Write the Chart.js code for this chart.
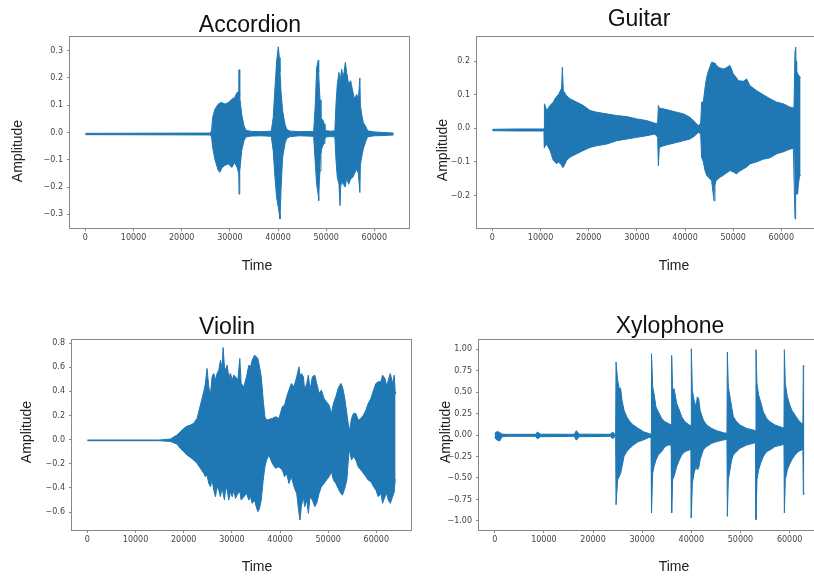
<!DOCTYPE html>
<html>
<head>
<meta charset="utf-8">
<script src="https://cdn.jsdelivr.net/npm/chart.js@4"></script>
<style>
  html, body { margin: 0; padding: 0; background: #fff; }
  body { width: 814px; height: 579px; overflow: hidden; position: relative; }
  canvas { position: absolute; }
</style>
</head>
<body>
<canvas id="accordion"></canvas>
<canvas id="guitar"></canvas>
<canvas id="violin"></canvas>
<canvas id="xylophone"></canvas>
<script>
// waveform envelopes: sample index, upper edge, lower edge
const accordionTime = [
  0, 2500, 26000, 26220, 26430, 26910, 27600, 27950, 28300, 29000,
  29700, 30400, 31000, 31500, 31850, 31900, 32000, 32100, 32450, 32930,
  33350, 34500, 36500, 38600, 39000, 39370, 39720, 40060, 40270, 40410,
  40550, 40620, 40960, 41450, 41800, 42500, 44500, 47400, 47750, 48020,
  48370, 48440, 48580, 48720, 48920, 49060, 49400, 49620, 49750, 50100,
  51000, 51800, 52040, 52310, 52660, 52870, 53000, 53210, 53560, 53980,
  54250, 54670, 55080, 55500, 55900, 56330, 56680, 57000, 57100, 57370,
  57710, 58270, 58610, 60000, 62000, 64000];
const accordionUpper = [
  -0.003, -0.003, -0.002, 0.01, 0.055, 0.086, 0.104, 0.108, 0.11, 0.104,
  0.11, 0.122, 0.128, 0.147, 0.15, 0.23, 0.17, 0.13, 0.067, 0.025,
  0.008, 0.004, 0.003, 0.005, 0.055, 0.165, 0.263, 0.314, 0.275, 0.22,
  0.177, 0.15, 0.08, 0.03, 0.012, 0.005, 0.003, 0.004, 0.104, 0.238,
  0.265, 0.22, 0.165, 0.12, 0.055, 0.05, 0.043, 0.03, 0.012, 0.006,
  0.005, 0.006, 0.104, 0.177, 0.22, 0.19, 0.2, 0.232, 0.2, 0.257,
  0.22, 0.177, 0.19, 0.153, 0.122, 0.14, 0.12, 0.2, 0.1, 0.067,
  0.037, 0.02, 0.006, 0.002, 0.0, -0.002];
const accordionLower = [
  -0.008, -0.008, -0.009, -0.02, -0.055, -0.10, -0.14, -0.146, -0.13, -0.12,
  -0.115, -0.128, -0.11, -0.128, -0.15, -0.226, -0.16, -0.14, -0.067, -0.03,
  -0.016, -0.013, -0.012, -0.014, -0.067, -0.165, -0.24, -0.274, -0.30, -0.317,
  -0.25, -0.21, -0.09, -0.04, -0.022, -0.015, -0.012, -0.014, -0.115, -0.19,
  -0.23, -0.25, -0.18, -0.14, -0.08, -0.06, -0.045, -0.04, -0.022, -0.016,
  -0.015, -0.016, -0.10, -0.165, -0.19, -0.268, -0.2, -0.18, -0.19, -0.2,
  -0.165, -0.19, -0.17, -0.165, -0.15, -0.134, -0.15, -0.22, -0.12, -0.09,
  -0.06, -0.03, -0.016, -0.012, -0.011, -0.009];

const guitarTime = [
  0, 5000, 10600, 10720, 10800, 11270, 11960, 12650, 13000, 13350,
  13690, 14040, 14380, 14520, 14730, 15420, 16110, 17500, 18880, 20270,
  21650, 23730, 25800, 27880, 29960, 32030, 33770, 34320, 34460, 34660,
  35500, 36880, 38260, 39650, 41030, 42070, 42760, 43250, 43450, 43800,
  44150, 44490, 44840, 45530, 46020, 46220, 46430, 46920, 47260, 47950,
  48300, 49340, 50030, 50720, 51070, 52110, 52800, 53490, 54880, 56260,
  57650, 59030, 60410, 61800, 62490, 62630, 62840, 62975, 63050, 63180,
  63390, 63530, 63740, 64000];
const guitarUpper = [
  -0.003, -0.002, -0.002, 0.0, 0.073, 0.053, 0.068, 0.078, 0.088, 0.095,
  0.10, 0.11, 0.12, 0.182, 0.112, 0.097, 0.088, 0.078, 0.068, 0.053,
  0.048, 0.043, 0.038, 0.035, 0.028, 0.023, 0.015, 0.015, 0.068, 0.06,
  0.058, 0.053, 0.048, 0.043, 0.033, 0.018, 0.008, 0.015, 0.078, 0.078,
  0.12, 0.152, 0.17, 0.197, 0.195, 0.192, 0.19, 0.182, 0.18, 0.177,
  0.178, 0.187, 0.162, 0.15, 0.142, 0.14, 0.147, 0.127, 0.112, 0.10,
  0.088, 0.078, 0.073, 0.063, 0.061, 0.06, 0.232, 0.242, 0.2, 0.172,
  0.162, 0.16, 0.155, 0.152];
const guitarLower = [
  -0.007, -0.008, -0.008, -0.01, -0.057, -0.047, -0.066, -0.096, -0.10, -0.106,
  -0.10, -0.105, -0.11, -0.116, -0.116, -0.096, -0.086, -0.076, -0.066, -0.057,
  -0.052, -0.047, -0.037, -0.032, -0.027, -0.022, -0.017, -0.027, -0.111, -0.057,
  -0.052, -0.047, -0.042, -0.037, -0.032, -0.022, -0.012, -0.017, -0.087, -0.10,
  -0.126, -0.14, -0.146, -0.156, -0.216, -0.17, -0.156, -0.15, -0.146, -0.14,
  -0.136, -0.126, -0.13, -0.136, -0.13, -0.121, -0.115, -0.106, -0.10, -0.092,
  -0.088, -0.076, -0.07, -0.062, -0.06, -0.06, -0.27, -0.2, -0.18, -0.196,
  -0.196, -0.17, -0.145, -0.14];

const violinTime = [
  0, 15000, 17210, 18600, 19300, 19990, 20680, 21380, 22070, 22770,
  23460, 24160, 24500, 24850, 25200, 25540, 25890, 26240, 26590, 26930,
  27280, 27630, 27970, 28180, 28460, 28740, 29010, 29360, 29710, 30060,
  30400, 30750, 31240, 31650, 31930, 32490, 33040, 33530, 33880, 34220,
  34710, 35060, 35400, 35750, 36100, 36510, 36860, 37210, 37690, 38390,
  39080, 39780, 40470, 40960, 41370, 41860, 42350, 42900, 43460, 43940,
  44150, 44430, 44850, 45120, 45540, 45890, 46230, 46720, 47210, 47620,
  48110, 48590, 49150, 49640, 50190, 50680, 51090, 51580, 52070, 52620,
  52970, 53450, 53870, 54360, 54570, 54840, 55260, 55750, 56230, 56790,
  57340, 57830, 58310, 58870, 59430, 59910, 60400, 60950, 61300, 61790,
  62200, 62480, 62900, 63380, 63730, 63900, 64000];
const violinUpper = [
  -0.003, -0.003, 0.005, 0.038, 0.065, 0.093, 0.112, 0.121, 0.135, 0.176,
  0.286, 0.397, 0.466, 0.59, 0.438, 0.369, 0.521, 0.549, 0.494, 0.549,
  0.576, 0.659, 0.59, 0.764, 0.604, 0.576, 0.618, 0.521, 0.549, 0.494,
  0.535, 0.521, 0.494, 0.673, 0.466, 0.438, 0.521, 0.618, 0.604, 0.659,
  0.701, 0.687, 0.673, 0.604, 0.521, 0.328, 0.19, 0.162, 0.168, 0.176,
  0.19, 0.176, 0.273, 0.286, 0.355, 0.411, 0.466, 0.438, 0.521, 0.604,
  0.521, 0.549, 0.521, 0.411, 0.466, 0.535, 0.411, 0.521, 0.535, 0.466,
  0.383, 0.411, 0.342, 0.314, 0.286, 0.217, 0.3, 0.355, 0.425, 0.466,
  0.438, 0.342, 0.217, 0.079, 0.107, 0.176, 0.217, 0.217, 0.162, 0.176,
  0.204, 0.245, 0.3, 0.342, 0.411, 0.466, 0.48, 0.48, 0.535, 0.507,
  0.438, 0.494, 0.549, 0.466, 0.535, 0.397, 0.38];
const violinLower = [
  -0.009, -0.009, -0.015, -0.037, -0.073, -0.10, -0.128, -0.147, -0.169, -0.197,
  -0.238, -0.28, -0.307, -0.294, -0.363, -0.39, -0.335, -0.418, -0.473, -0.39,
  -0.418, -0.473, -0.39, -0.446, -0.501, -0.39, -0.418, -0.501, -0.432, -0.473,
  -0.418, -0.487, -0.446, -0.432, -0.501, -0.473, -0.446, -0.501, -0.473, -0.528,
  -0.501, -0.556, -0.597, -0.57, -0.501, -0.335, -0.225, -0.169, -0.128, -0.197,
  -0.238, -0.225, -0.252, -0.307, -0.28, -0.363, -0.307, -0.39, -0.446, -0.611,
  -0.666, -0.556, -0.473, -0.556, -0.501, -0.611, -0.473, -0.501, -0.556, -0.528,
  -0.446, -0.39, -0.363, -0.335, -0.307, -0.266, -0.335, -0.363, -0.404, -0.446,
  -0.459, -0.404, -0.335, -0.086, -0.114, -0.169, -0.14, -0.169, -0.225, -0.252,
  -0.28, -0.307, -0.335, -0.349, -0.39, -0.418, -0.473, -0.446, -0.528, -0.473,
  -0.446, -0.501, -0.528, -0.473, -0.432, -0.335, -0.33];

const xylophoneTime = [
  0, 500, 1000, 1500, 2500, 8300, 8700, 9300, 16200, 16600,
  17200, 23500, 24000, 24400, 24600, 24680, 25010, 25350, 25630, 25900,
  26300, 26850, 27520, 28200, 29220, 30240, 31250, 31800, 31900, 32140,
  32410, 32810, 33290, 33970, 34650, 35320, 35900, 36000, 36200, 36480,
  37020, 37560, 38040, 38710, 39600, 39950, 40000, 40210, 40550, 40950,
  41220, 41500, 41770, 42440, 43120, 44140, 45160, 46510, 47250, 47330,
  47530, 47870, 48210, 48550, 49230, 49900, 51260, 52620, 53100, 53160,
  53360, 53700, 54110, 54650, 55330, 56010, 57030, 58380, 58850, 58930,
  59130, 59540, 59940, 60420, 61100, 61770, 62450, 62700, 62790, 62990];
const xylophoneUpper = [
  0.02, 0.04, 0.03, 0.01, 0.008, 0.008, 0.035, 0.01, 0.008, 0.05,
  0.01, 0.008, 0.035, 0.01, 0.008, 0.849, 0.637, 0.54, 0.54, 0.405,
  0.29, 0.212, 0.154, 0.116, 0.077, 0.039, 0.019, 0.01, 0.946, 0.56,
  0.482, 0.328, 0.27, 0.193, 0.154, 0.135, 0.116, 0.926, 0.521, 0.54,
  0.367, 0.29, 0.212, 0.154, 0.116, 0.11, 1.003, 0.521, 0.405, 0.328,
  0.444, 0.425, 0.29, 0.174, 0.116, 0.077, 0.05, 0.027, 0.019, 0.965,
  0.56, 0.444, 0.328, 0.212, 0.154, 0.116, 0.077, 0.058, 0.05, 0.992,
  0.598, 0.463, 0.386, 0.27, 0.193, 0.154, 0.116, 0.089, 0.08, 0.992,
  0.598, 0.444, 0.367, 0.29, 0.232, 0.174, 0.135, 0.13, 0.81, 0.791];
const xylophoneLower = [
  -0.03, -0.06, -0.07, -0.02, -0.015, -0.015, -0.045, -0.02, -0.015, -0.06,
  -0.02, -0.015, -0.045, -0.02, -0.02, -0.811, -0.521, -0.483, -0.444, -0.367,
  -0.251, -0.193, -0.155, -0.116, -0.077, -0.058, -0.031, -0.025, -0.907, -0.444,
  -0.367, -0.29, -0.232, -0.193, -0.135, -0.116, -0.116, -0.907, -0.521, -0.483,
  -0.367, -0.29, -0.232, -0.193, -0.174, -0.17, -0.965, -0.56, -0.444, -0.367,
  -0.405, -0.386, -0.29, -0.174, -0.135, -0.097, -0.077, -0.058, -0.05, -0.946,
  -0.521, -0.405, -0.29, -0.232, -0.193, -0.155, -0.116, -0.097, -0.09, -0.984,
  -0.521, -0.405, -0.328, -0.251, -0.193, -0.174, -0.135, -0.116, -0.11, -0.907,
  -0.521, -0.405, -0.348, -0.29, -0.232, -0.193, -0.174, -0.17, -0.695, -0.68];

// tick labels
const timeTicks = [0, 10000, 20000, 30000, 40000, 50000, 60000];
const accordionTicks = [-0.3, -0.2, -0.1, 0.0, 0.1, 0.2, 0.3];
const guitarTicks = [-0.2, -0.1, 0.0, 0.1, 0.2];
const violinTicks = [-0.6, -0.4, -0.2, 0.0, 0.2, 0.4, 0.6, 0.8];
const xylophoneTicks = [-1.0, -0.75, -0.5, -0.25, 0.0, 0.25, 0.5, 0.75, 1.0];

const blue = '#1f77b4';
const grey = '#888';

// frame, title and axis labels of each panel
const panelText = {
  id: 'panelText',
  afterDraw(chart, args, o) {
    const ctx = chart.ctx, a = chart.chartArea;
    ctx.save();
    ctx.strokeStyle = grey;
    ctx.lineWidth = 1;
    ctx.strokeRect(Math.round(a.left) - 0.5, Math.round(a.top) - 0.5,
                   Math.round(a.right - a.left) + 1, Math.round(a.bottom - a.top) + 1);
    ctx.fillStyle = '#111';
    ctx.textAlign = 'center';
    ctx.textBaseline = 'alphabetic';
    ctx.font = '23px "Liberation Sans", Arial, sans-serif';
    ctx.fillText(o.title, o.titleX, o.titleY);
    ctx.fillStyle = '#222';
    ctx.font = '14px "Liberation Sans", Arial, sans-serif';
    ctx.textBaseline = 'middle';
    ctx.fillText('Time', o.timeX, o.timeY);
    ctx.translate(o.ampX, o.ampY);
    ctx.rotate(-Math.PI / 2);
    ctx.fillText('Amplitude', 0, 0);
    ctx.restore();
  }
};

function fmt(v, dec) {
  return (v < 0 ? '\u2212' : '') + Math.abs(v).toFixed(dec);
}

function makePanel(id, box, area, text, time, upper, lower, yMin, yMax, yTicks, dec) {
  const cv = document.getElementById(id);
  cv.width = box.w;
  cv.height = box.h;
  cv.style.left = box.x + 'px';
  cv.style.top = box.y + 'px';
  const yW = area.l - box.x;
  const xH = box.y + box.h - area.b;
  const tickFont = { family: 'DejaVu Sans', size: 8 };
  const line = { borderColor: blue, backgroundColor: blue, borderWidth: 1, pointRadius: 0, tension: 0 };

  new Chart(cv, {
    type: 'line',
    data: {
      datasets: [
        Object.assign({ data: time.map((t, i) => ({ x: t, y: upper[i] })), fill: '+1' }, line),
        Object.assign({ data: time.map((t, i) => ({ x: t, y: lower[i] })), fill: false }, line)
      ]
    },
    options: {
      responsive: false,
      animation: false,
      devicePixelRatio: 1,
      layout: { padding: { top: area.t - box.y, right: box.x + box.w - area.r, left: 0, bottom: 0 } },
      plugins: {
        legend: { display: false },
        tooltip: { enabled: false },
        panelText: {
          title: text.title,
          titleX: text.titleX - box.x, titleY: text.titleY - box.y,
          timeX: text.timeX - box.x, timeY: text.timeY - box.y,
          ampX: text.ampX - box.x, ampY: text.ampY - box.y
        }
      },
      scales: {
        x: {
          type: 'linear',
          min: -3200,
          max: 67200,
          afterFit: s => { s.height = xH; },
          afterBuildTicks: s => { s.ticks = timeTicks.map(v => ({ value: v })); },
          ticks: { font: tickFont, color: '#444', padding: 2, maxRotation: 0, autoSkip: false,
                   callback: v => String(v) },
          grid: { drawOnChartArea: false, drawTicks: true, tickLength: 3, color: grey },
          border: { display: false }
        },
        y: {
          type: 'linear',
          min: yMin,
          max: yMax,
          afterFit: s => { s.width = yW; },
          afterBuildTicks: s => { s.ticks = yTicks.map(v => ({ value: v })); },
          ticks: { font: tickFont, color: '#444', padding: 4, autoSkip: false,
                   callback: v => fmt(v, dec) },
          grid: { drawOnChartArea: false, drawTicks: true, tickLength: 3, color: grey },
          border: { display: false }
        }
      }
    },
    plugins: [panelText]
  });
}

makePanel('accordion',
  { x: 0, y: 0, w: 410, h: 290 }, { l: 70, t: 37, r: 409, b: 228 },
  { title: 'Accordion', titleX: 250, titleY: 32, timeX: 257, timeY: 266, ampX: 18, ampY: 151 },
  accordionTime, accordionUpper, accordionLower, -0.35, 0.35, accordionTicks, 1);

makePanel('guitar',
  { x: 410, y: 0, w: 410, h: 290 }, { l: 477, t: 37, r: 816, b: 228 },
  { title: 'Guitar', titleX: 639, titleY: 26, timeX: 674, timeY: 266, ampX: 443, ampY: 150 },
  guitarTime, guitarUpper, guitarLower, -0.297, 0.272, guitarTicks, 1);

makePanel('violin',
  { x: 0, y: 290, w: 415, h: 289 }, { l: 72, t: 340, r: 411, b: 530 },
  { title: 'Violin', titleX: 227, titleY: 334, timeX: 257, timeY: 567, ampX: 27, ampY: 432 },
  violinTime, violinUpper, violinLower, -0.749, 0.826, violinTicks, 1);

makePanel('xylophone',
  { x: 410, y: 290, w: 420, h: 289 }, { l: 479, t: 340, r: 825, b: 530 },
  { title: 'Xylophone', titleX: 670, titleY: 333, timeX: 674, timeY: 567, ampX: 446, ampY: 432 },
  xylophoneTime, xylophoneUpper, xylophoneLower, -1.105, 1.105, xylophoneTicks, 2);
</script>
</body>
</html>
